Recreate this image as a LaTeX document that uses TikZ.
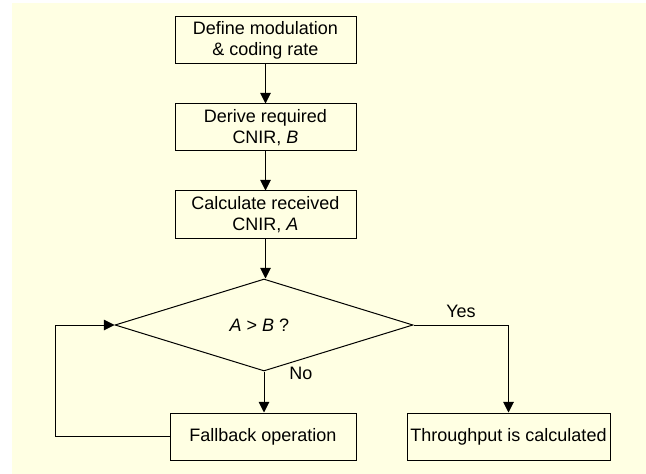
\documentclass[tikz,border=0pt]{standalone}
\usepackage{fontspec}
\setmainfont{Liberation Sans}
\usetikzlibrary{arrows.meta, positioning, shapes.geometric}

\definecolor{paleyellow}{HTML}{FFFFE3}

\begin{document}
\begin{tikzpicture}[
    x=0.75pt, y=-0.75pt,
    stepbox/.style={draw, line width=0.75pt, minimum width=#1, minimum height=35.25pt,
                 inner sep=0pt, align=center, font=\fontsize{13.5}{15.75}\selectfont},
    stepbox/.default=135.75pt,
    decide/.style={draw, diamond, line width=0.75pt, minimum width=223.5pt,
                 minimum height=69pt, inner sep=0pt, font=\fontsize{13.5}{15.75}\selectfont},
    arr/.style={-{Triangle[length=8pt, width=8pt]}, line width=0.75pt},
    lbl/.style={inner sep=0pt, font=\fontsize{13.5}{15.75}\selectfont}
  ]

  \useasboundingbox (0,0) rectangle (646,474);
  \fill[white] (0,0) rectangle (646,474);
  \fill[paleyellow] (12,3) rectangle (646,474);

  \node[stepbox] (define) at (265.5, 40.5) {Define modulation\\\& coding rate};
  \node[stepbox] (derive) at (265.5, 127.5) {Derive required\\CNIR, \textit{B}};
  \node[stepbox] (calc) at (265.5, 214.5) {Calculate received\\CNIR, \textit{A}};
  \node[decide] (test) at (264, 325) {\textit{A} > \textit{B} ?\hspace*{7pt}};
  \node[stepbox=139.5pt] (fallback) at (263, 436.5) {Fallback operation};
  \node[stepbox=152.25pt] (thruput) at (508.5, 436.5) {Throughput is calculated};

  \draw[arr] (define) -- (derive);
  \draw[arr] (derive) -- (calc);
  \draw[arr] (calc.south) -- (calc.south |- test.north);

  % yes / no branches
  \draw[arr] (test.east) -| (thruput.north)
    node[lbl, pos=0.25, yshift=10.5pt] {Yes};
  \draw[arr] (test.south) -- (test.south |- fallback.north)
    node[lbl, pos=0.05, xshift=27.75pt] {No};

  % back to the test
  \draw[arr] (fallback.west) -- ++(-114,0) |- (test.west);

\end{tikzpicture}
\end{document}
